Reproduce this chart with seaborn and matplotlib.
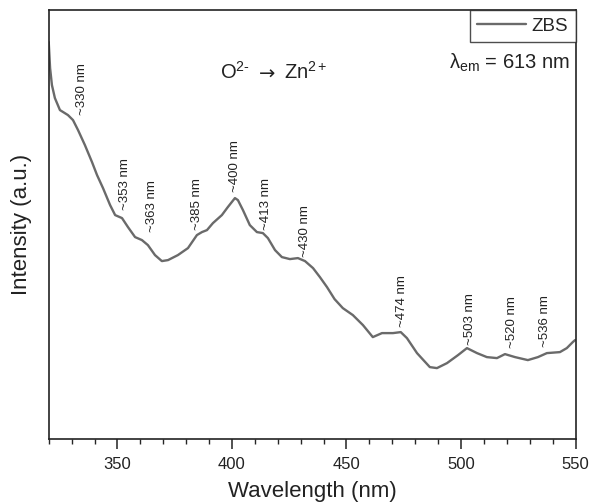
import matplotlib
matplotlib.use("Agg")
import matplotlib.pyplot as plt
import seaborn as sns
import pandas as pd
from matplotlib.ticker import MultipleLocator

# ---- data ----
wavelength = [320.0, 320.6, 321.4, 322.7, 324.9, 328.4, 330.6, 332.8, 335.8, 338.9,
              341.1, 343.7, 346.8, 349.0, 352.0, 354.6, 357.7, 360.7, 363.3, 366.4,
              369.4, 372.1, 376.4, 380.8, 384.7, 386.9, 389.1, 391.7, 395.6, 398.2,
              401.3, 402.6, 404.8, 407.8, 410.9, 413.5, 415.7, 418.8, 421.8, 425.3,
              428.8, 431.9, 435.4, 438.4, 441.5, 444.8, 448.4, 452.8, 457.2, 461.5,
              465.5, 470.3, 473.7, 476.4, 480.8, 486.4, 489.5, 493.9, 498.7, 502.6,
              507.0, 511.3, 515.7, 519.2, 523.6, 529.2, 533.6, 537.5, 543.2, 546.2,
              548.8, 549.8]
intensity = [397, 371, 354, 341, 329, 324, 319, 309, 294, 277,
             264, 251, 234, 224, 221, 212, 202, 199, 194, 184,
             178, 179, 184, 191, 204, 207, 209, 216, 224, 232,
             241, 239, 229, 214, 207, 206, 201, 189, 182, 180,
             181, 178, 171, 162, 152, 140, 131, 124, 114, 102,
             106, 106, 107, 101, 86, 72, 71, 76, 84, 91,
             86, 82, 81, 85, 82, 79, 82, 86, 87, 91,
             97, 99]
series_name = "ZBS"

peak_labels = ["~330 nm", "~353 nm", "~363 nm", "~385 nm", "~400 nm", "~413 nm",
               "~430 nm", "~474 nm", "~503 nm", "~520 nm", "~536 nm"]
peak_label_x = [334.6, 353.3, 365.0, 384.8, 401.4, 415.0, 432.0, 474.2, 503.9, 522.2, 536.6]
peak_label_y = [324, 229, 207, 209, 247, 209, 182, 112, 94, 91, 92]

x_ticks = [350, 400, 450, 500, 550]

df = pd.DataFrame({"Wavelength": wavelength, "Intensity": intensity, "Sample": series_name})

sns.set_style("ticks")
plt.rcParams["font.family"] = ["Liberation Sans", "DejaVu Sans"]
plt.rcParams["mathtext.fontset"] = "custom"
plt.rcParams["mathtext.rm"] = "Liberation Sans"
plt.rcParams["mathtext.it"] = "Liberation Sans"
plt.rcParams["mathtext.sf"] = "Liberation Sans"

fig = plt.figure(figsize=(5.97, 5.03), dpi=100)
ax = fig.add_axes([0.0816, 0.127, 0.8824, 0.853])

sns.lineplot(data=df, x="Wavelength", y="Intensity", hue="Sample",
             palette=["#6a6a6a"], linewidth=1.7, ax=ax, legend=True,
             solid_joinstyle="round", solid_capstyle="round")

ax.set_xlim(320, 550)
ax.set_ylim(0, 429)
ax.set_xticks(x_ticks)
ax.xaxis.set_minor_locator(MultipleLocator(10))
ax.set_yticks([])
ax.tick_params(axis="x", which="major", direction="out", length=7, width=1.1,
               labelsize=12, colors="#222222", pad=6)
ax.tick_params(axis="x", which="minor", direction="out", length=3.5, width=1.0)
for s in ax.spines.values():
    s.set_visible(True)
    s.set_linewidth(1.2)
    s.set_color("#222222")

ax.set_xlabel("Wavelength (nm)", fontsize=16, color="#222222", labelpad=6)
ax.set_ylabel("Intensity (a.u.)", fontsize=16, color="#222222", labelpad=12)

for lab, lx, ly in zip(peak_labels, peak_label_x, peak_label_y):
    ax.text(lx, ly, lab, rotation=90, ha="center", va="bottom", fontsize=9.5,
            color="#222222")

ty = 0.855
ax.text(0.382, ty, r"O$^{2\text{-}}$", transform=ax.transAxes,
        ha="right", va="center", fontsize=14.5, color="#222222")
ax.text(0.414, ty - 0.004, "\u2192", transform=ax.transAxes, family=["DejaVu Sans"],
        ha="center", va="center", fontsize=14, color="#222222")
ax.text(0.446, ty, r"Zn$^{2+}$", transform=ax.transAxes,
        ha="left", va="center", fontsize=14.5, color="#222222")
ax.text(0.99, 0.878, "\u03bb$_{\\mathrm{em}}$ = 613 nm", transform=ax.transAxes,
        ha="right", va="center", fontsize=14.5, color="#222222")

leg = ax.legend(loc="upper right", frameon=True, fontsize=13.5, handlelength=2.6,
                borderaxespad=0.0, borderpad=0.4, handletextpad=0.3, fancybox=False)
leg.get_frame().set_edgecolor("#222222")
leg.get_frame().set_linewidth(1.0)
leg.set_title(None)

fig.savefig("out.png", dpi=100)
